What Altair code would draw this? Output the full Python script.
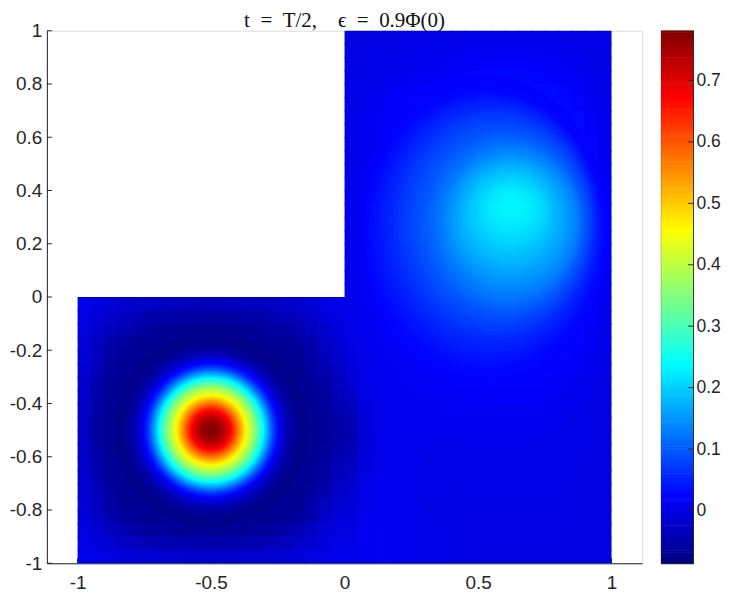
import altair as alt
import math
import pandas as pd

VMIN, VMAX = -0.086, 0.781
STOPS = [0, 0.125, 0.375, 0.625, 0.875, 1]
JET = ["#000080", "#0000ff", "#00ffff", "#ffff00", "#ff0000", "#800000"]
INK = "#262626"
FONT = "Liberation Sans"

STEP = 0.05
# Right half, x cell starts 0, 0.05 ... 0.95; rows from y=1 downwards
RIGHT = [
[-.004,-.003,-.002,-.001,0,.001,.002,.003,.004,.005,.006,.006,.006,.006,.005,.004,.003,.002,.001,-.001],
[-.003,-.002,-.001,.001,.002,.004,.005,.007,.009,.011,.012,.013,.013,.013,.012,.01,.008,.005,.002,-.001],
[-.002,0,.002,.004,.006,.008,.01,.012,.015,.017,.019,.02,.02,.02,.018,.015,.012,.008,.004,0],
[-.001,.002,.004,.007,.01,.013,.016,.019,.022,.025,.027,.028,.028,.028,.026,.022,.018,.012,.006,.001],
[0,.003,.007,.011,.015,.019,.023,.027,.029,.029,.029,.029,.029,.029,.029,.029,.025,.017,.009,.002],
[0,.005,.01,.015,.02,.025,.029,.029,.029,.029,.029,.029,.029,.029,.029,.029,.029,.023,.012,.003],
[.001,.006,.012,.018,.024,.029,.029,.029,.029,.029,.029,.029,.029,.029,.029,.029,.029,.029,.015,.004],
[.002,.007,.014,.021,.028,.029,.029,.029,.029,.029,.029,.029,.029,.029,.029,.029,.029,.029,.019,.005],
[.002,.008,.016,.024,.029,.029,.029,.029,.029,.029,.029,.029,.029,.029,.029,.029,.029,.029,.025,.006],
[.003,.01,.018,.027,.029,.029,.029,.029,.029,.029,.029,.029,.029,.029,.029,.029,.029,.029,.029,.008],
[.004,.011,.02,.029,.029,.029,.029,.029,.029,.029,.029,.029,.029,.029,.029,.029,.029,.029,.029,.01],
[.005,.013,.023,.029,.029,.029,.029,.029,.029,.029,.029,.029,.029,.029,.029,.029,.029,.029,.029,.012],
[.006,.014,.026,.029,.029,.029,.029,.029,.029,.029,.029,.029,.029,.029,.029,.029,.029,.029,.029,.015],
[.007,.015,.028,.029,.029,.029,.029,.029,.029,.029,.029,.029,.029,.029,.029,.029,.029,.029,.029,.016],
[.007,.016,.029,.029,.029,.029,.029,.029,.029,.029,.029,.029,.029,.029,.029,.029,.029,.029,.029,.016],
[.007,.016,.029,.029,.029,.029,.029,.029,.029,.029,.029,.029,.029,.029,.029,.029,.029,.029,.029,.015],
[.007,.016,.028,.029,.029,.029,.029,.029,.029,.029,.029,.029,.029,.029,.029,.029,.029,.029,.029,.013],
[.007,.015,.026,.029,.029,.029,.029,.029,.029,.029,.029,.029,.029,.029,.029,.029,.029,.029,.029,.011],
[.006,.014,.024,.029,.029,.029,.029,.029,.029,.029,.029,.029,.029,.029,.029,.029,.029,.029,.029,.01],
[.005,.013,.022,.029,.029,.029,.029,.029,.029,.029,.029,.029,.029,.029,.029,.029,.029,.029,.029,.008],
[.004,.012,.019,.027,.029,.029,.029,.029,.029,.029,.029,.029,.029,.029,.029,.029,.029,.029,.028,.006],
[.002,.01,.016,.022,.029,.029,.029,.029,.029,.029,.029,.029,.029,.029,.029,.029,.029,.029,.022,.005],
[0,.008,.013,.018,.024,.029,.029,.029,.029,.029,.029,.029,.029,.029,.029,.029,.029,.029,.017,.003],
[-.003,.006,.011,.015,.019,.024,.029,.029,.029,.029,.029,.029,.029,.029,.029,.029,.029,.023,.012,.002],
[-.006,.004,.009,.012,.015,.019,.023,.027,.029,.029,.029,.029,.029,.029,.029,.029,.024,.016,.008,0],
[-.01,.002,.007,.01,.013,.015,.018,.021,.024,.027,.029,.029,.029,.029,.027,.023,.018,.012,.006,-.001],
[-.016,0,.006,.009,.011,.013,.015,.017,.019,.02,.021,.022,.022,.021,.02,.017,.013,.008,.004,-.002],
[-.025,-.004,.004,.008,.01,.011,.012,.013,.014,.015,.016,.016,.016,.016,.015,.013,.01,.006,.002,-.003],
[-.035,-.008,.003,.007,.009,.01,.01,.011,.011,.012,.012,.012,.012,.012,.011,.01,.007,.004,.001,-.004],
[-.042,-.012,.002,.006,.008,.008,.008,.008,.009,.009,.009,.009,.009,.009,.008,.007,.005,.002,0,-.004],
[-.044,-.014,.001,.006,.007,.007,.006,.006,.006,.007,.007,.007,.007,.007,.006,.005,.003,.001,-.001,-.004],
[-.04,-.012,.002,.006,.007,.006,.004,.004,.004,.005,.005,.005,.005,.005,.004,.003,.002,0,-.002,-.004],
[-.032,-.008,.003,.007,.007,.005,.003,.002,.003,.003,.003,.003,.003,.003,.003,.002,.001,-.001,-.002,-.004],
[-.024,-.004,.005,.008,.007,.004,.002,.001,.001,.002,.002,.002,.002,.002,.002,.001,0,-.001,-.003,-.004],
[-.016,0,.007,.009,.007,.004,.001,0,0,.001,.001,.001,.001,.001,.001,.001,0,-.002,-.003,-.004],
[-.01,.003,.009,.01,.007,.003,0,-.001,0,0,0,0,0,0,0,0,-.001,-.002,-.003,-.004],
[-.005,.006,.01,.01,.007,.003,0,-.001,-.001,-.001,-.001,-.001,-.001,-.001,-.001,-.001,-.002,-.003,-.003,-.004],
[-.002,.008,.011,.01,.007,.003,.001,-.001,-.001,-.002,-.002,-.002,-.002,-.002,-.002,-.002,-.002,-.003,-.004,-.004],
[0,.009,.011,.01,.007,.004,.001,0,-.001,-.002,-.003,-.003,-.003,-.003,-.003,-.003,-.003,-.003,-.004,-.004],
[.002,.009,.011,.009,.007,.004,.002,0,-.001,-.002,-.003,-.004,-.004,-.004,-.004,-.004,-.004,-.004,-.004,-.004],
]
# Left half, x cell starts -1 ... -0.05; rows from y=0 downwards
LEFT = [
[.005,-.003,-.01,-.016,-.022,-.027,-.03,-.032,-.034,-.035,-.035,-.034,-.032,-.03,-.027,-.022,-.016,-.01,-.002,.004],
[0,-.012,-.024,-.033,-.04,-.046,-.05,-.053,-.055,-.056,-.056,-.055,-.053,-.05,-.046,-.04,-.033,-.024,-.012,-.002],
[-.003,-.02,-.034,-.045,-.054,-.06,-.065,-.069,-.071,-.072,-.072,-.071,-.069,-.065,-.06,-.054,-.045,-.034,-.02,-.007],
[-.012,-.03,-.05,-.062,-.068,-.07,-.07,-.07,-.07,-.07,-.07,-.07,-.07,-.07,-.07,-.068,-.062,-.05,-.03,-.014],
[-.012,-.032,-.055,-.068,-.07,-.07,-.07,-.07,-.07,-.07,-.07,-.07,-.07,-.07,-.07,-.07,-.068,-.055,-.036,-.02],
[-.015,-.04,-.06,-.07,-.07,-.07,-.07,-.07,-.07,-.07,-.07,-.07,-.07,-.07,-.07,-.07,-.07,-.06,-.046,-.028],
[-.02,-.045,-.065,-.07,-.07,-.07,-.07,-.07,-.07,-.07,-.07,-.07,-.07,-.07,-.07,-.07,-.07,-.065,-.054,-.034],
[-.022,-.05,-.068,-.07,-.07,-.07,-.07,-.07,-.07,-.07,-.07,-.07,-.07,-.07,-.07,-.07,-.07,-.068,-.06,-.04],
[-.024,-.055,-.07,-.07,-.07,-.07,-.07,-.07,-.07,-.07,-.07,-.07,-.07,-.07,-.07,-.07,-.07,-.07,-.063,-.048],
[-.025,-.058,-.07,-.07,-.07,-.07,-.07,-.07,-.07,-.07,-.07,-.07,-.07,-.07,-.07,-.07,-.07,-.07,-.066,-.052],
[-.025,-.058,-.07,-.07,-.07,-.07,-.07,-.07,-.07,-.07,-.07,-.07,-.07,-.07,-.07,-.07,-.07,-.07,-.066,-.053],
[-.024,-.055,-.07,-.07,-.07,-.07,-.07,-.07,-.07,-.07,-.07,-.07,-.07,-.07,-.07,-.07,-.07,-.07,-.063,-.05],
[-.022,-.05,-.068,-.07,-.07,-.07,-.07,-.07,-.07,-.07,-.07,-.07,-.07,-.07,-.07,-.07,-.07,-.068,-.06,-.042],
[-.02,-.045,-.065,-.07,-.07,-.07,-.07,-.07,-.07,-.07,-.07,-.07,-.07,-.07,-.07,-.07,-.07,-.065,-.054,-.034],
[-.015,-.04,-.06,-.07,-.07,-.07,-.07,-.07,-.07,-.07,-.07,-.07,-.07,-.07,-.07,-.07,-.07,-.06,-.046,-.026],
[-.012,-.032,-.055,-.068,-.07,-.07,-.07,-.07,-.07,-.07,-.07,-.07,-.07,-.07,-.07,-.07,-.068,-.055,-.034,-.018],
[-.008,-.028,-.048,-.06,-.066,-.07,-.07,-.07,-.07,-.07,-.07,-.07,-.07,-.07,-.07,-.066,-.06,-.048,-.026,-.01],
[-.004,-.018,-.032,-.044,-.054,-.06,-.063,-.066,-.067,-.067,-.067,-.066,-.065,-.062,-.058,-.052,-.042,-.03,-.016,-.004],
[0,-.008,-.018,-.027,-.034,-.04,-.043,-.045,-.046,-.047,-.047,-.046,-.045,-.043,-.04,-.034,-.026,-.016,-.006,.002],
[.006,.002,-.004,-.009,-.013,-.016,-.018,-.019,-.02,-.02,-.02,-.02,-.019,-.018,-.016,-.013,-.009,-.004,.002,.006],
]
# Circular peak around (-0.5, -0.5): radius and value read along its rings
PEAK_X = -0.5
PEAK_Y = -0.5
RING_R = [.42,.4125,.405,.3975,.39,.3825,.375,.3675,.36,.3525,.345,.3375,.33,.3225,.315,.3075,
          .30,.2925,.285,.2775,.27,.2625,.255,.2475,.24,.2325,.225,.2175,.21,.2025,.195,.1875,.18,.1725,.165,.1575,
          .15,.1425,.135,.1275,.12,.1125,.105,.0975,.09,.0825,.075,.0675,.06,.0525,.045,.0375,.03,.0225,.015,.0075]
RING_V = [-.07,-.074,-.077,-.079,-.078,-.076,-.073,-.07,-.066,-.062,-.057,-.051,-.044,-.035,-.024,-.012,
          0,.015,.03,.05,.07,.095,.12,.15,.175,.205,.235,.26,.285,.31,.335,.36,.38,.40,.42,.44,
          .465,.49,.515,.54,.565,.59,.615,.64,.665,.685,.70,.715,.73,.742,.753,.762,.769,.774,.777,.78]
# Contours of the upper right lobe: value, centre, half width, half height
LOBE_V = [.02,.025,.03,.035,.04,.045,.05,.055,.06,.065,.07,.075,.08,.085,.09,.095,.10,.105,.11,.115,.12,.125,.13,
          .135,.14,.145,.15,.155,.16,.165,.17,.175,.18,.185,.19,.195,.20,.205,.21,.215,.22,.225,.23,.234]
LOBE_X = [.53,.53,.53,.535,.54,.545,.55,.555,.56,.565,.57,.575,.58,.585,.59,.594,.598,.602,.606,.61,.613,.616,.62,
          .62,.62,.62,.62,.62,.62,.62,.62,.62,.62,.62,.62,.62,.625,.625,.625,.625,.625,.625,.625,.625]
LOBE_Y = [.24,.245,.25,.255,.26,.265,.27,.272,.275,.277,.28,.28,.28,.28,.28,.28,.28,.28,.28,.28,.28,.282,.285,
          .287,.288,.29,.292,.295,.298,.30,.303,.306,.309,.312,.315,.318,.32,.323,.326,.329,.332,.335,.338,.34]
LOBE_A = [.465,.455,.44,.428,.417,.406,.395,.386,.377,.368,.36,.35,.34,.33,.32,.31,.30,.292,.285,.277,.27,.262,.255,
          .248,.24,.232,.225,.217,.208,.199,.19,.181,.172,.163,.154,.145,.135,.124,.113,.102,.09,.072,.05,.02]
LOBE_B = [.59,.55,.52,.505,.49,.475,.46,.445,.43,.42,.41,.395,.38,.37,.355,.345,.335,.325,.315,.305,.295,.285,.275,
          .265,.255,.245,.235,.225,.215,.205,.195,.185,.175,.163,.152,.14,.128,.116,.103,.09,.077,.06,.042,.017]
XTICKS = [-1, -0.5, 0, 0.5, 1]
YTICKS = [-1, -0.8, -0.6, -0.4, -0.2, 0, 0.2, 0.4, 0.6, 0.8, 1]
CTICKS = [0, 0.1, 0.2, 0.3, 0.4, 0.5, 0.6, 0.7]
TITLE = "t\u2002=\u2002T/2,\u2002\u2002ϵ\u2002=\u20020.9Φ(0)"

cells = []
for r, row in enumerate(RIGHT):
    for c, v in enumerate(row):
        cells.append(dict(x=c * STEP, x2=min(1, (c + 1.08) * STEP), y=1 - r * STEP, y2=max(-1, 1 - (r + 1.08) * STEP), v=v))
for r, row in enumerate(LEFT):
    for c, v in enumerate(row):
        cells.append(dict(x=-1 + c * STEP, x2=-1 + (c + 1.08) * STEP, y=-r * STEP, y2=max(-1, -(r + 1.08) * STEP), v=v))
cells = pd.DataFrame(cells)
PX_PER_UNIT = 267.5
rings = pd.DataFrame(dict(s=[math.pi * (r * PX_PER_UNIT) ** 2 for r in RING_R], v=RING_V, x=PEAK_X, y=PEAK_Y))
lobe = pd.DataFrame(dict(
    v=LOBE_V, x=LOBE_X, y=LOBE_Y,
    s=[(2 * a * PX_PER_UNIT) ** 2 for a in LOBE_A],
    p=[f"M-1,0A1,{b / a:.4f} 0 1,1 1,0A1,{b / a:.4f} 0 1,1 -1,0Z" for a, b in zip(LOBE_A, LOBE_B)],
))

color_scale = alt.Scale(domain=[VMIN + s * (VMAX - VMIN) for s in STOPS], range=JET, interpolate="rgb", clamp=True)
W, H = 597, 534
xs = alt.Scale(domain=[-1.115, 1.115], nice=False, zero=False)
ys = alt.Scale(domain=[-1, 1], nice=False, zero=False)
axis_common = dict(grid=False, ticks=False, domainColor=INK, domainWidth=1, labelColor=INK, labelFontSize=19,
                   labelFont=FONT, title=None, labelExpr="toString(datum.value)")

xticks = alt.Chart(pd.DataFrame(dict(t=XTICKS))).mark_rule(color=INK, strokeWidth=1).encode(
    x=alt.X("t:Q", scale=xs, axis=alt.Axis(values=XTICKS, labelPadding=10, **axis_common)),
    y=alt.value(H), y2=alt.value(H - 5))
yticks = alt.Chart(pd.DataFrame(dict(t=YTICKS))).mark_rule(color=INK, strokeWidth=1).encode(
    y=alt.Y("t:Q", scale=ys, axis=alt.Axis(values=YTICKS, labelPadding=5, minExtent=38, maxExtent=38, **axis_common)),
    x=alt.value(0), x2=alt.value(5))
heat = alt.Chart(cells).mark_rect(strokeWidth=0).encode(
    x=alt.X("x:Q", scale=xs), x2="x2:Q", y=alt.Y("y:Q", scale=ys), y2="y2:Q",
    color=alt.Color("v:Q", scale=color_scale, legend=None))
lobes = alt.Chart(lobe).mark_point(filled=True, opacity=1, strokeWidth=0).encode(
    x=alt.X("x:Q", scale=xs), y=alt.Y("y:Q", scale=ys),
    size=alt.Size("s:Q", scale=None),
    shape=alt.Shape("p:N", scale=None),
    color=alt.Color("v:Q", scale=color_scale, legend=None),
    order=alt.Order("v:Q"))
peak = alt.Chart(rings).mark_circle(opacity=1, strokeWidth=0).encode(
    x=alt.X("x:Q", scale=xs), y=alt.Y("y:Q", scale=ys),
    size=alt.Size("s:Q", scale=None),
    color=alt.Color("v:Q", scale=color_scale, legend=None))
main = alt.layer(xticks, yticks, heat, lobes, peak).properties(
    width=W, height=H,
    title=alt.TitleParams(TITLE, font="Liberation Serif", fontSize=21, fontWeight="normal", color="#111111",
                          anchor="middle", offset=-9))

n = 256
bar = pd.DataFrame([dict(a=VMIN + i * (VMAX - VMIN) / n, b=VMIN + (i + 1.3) * (VMAX - VMIN) / n,
                         v=VMIN + (i + 0.5) * (VMAX - VMIN) / n) for i in range(n)])
bar["b"] = bar["b"].clip(upper=VMAX)
cs = alt.Scale(domain=[VMIN, VMAX], nice=False, zero=False)
bar_rect = alt.Chart(bar).mark_rect(strokeWidth=0).encode(
    x=alt.value(0), x2=alt.value(32),
    y=alt.Y("a:Q", scale=cs, axis=alt.Axis(orient="right", values=CTICKS, domain=False, labelPadding=3,
                                          grid=False, ticks=False, labelColor=INK, labelFontSize=17.5, labelFont=FONT,
                                          title=None, labelExpr="toString(datum.value)")),
    y2="b:Q",
    color=alt.Color("v:Q", scale=color_scale, legend=None))
bar_ticks = alt.Chart(pd.DataFrame(dict(t=CTICKS))).mark_rule(color=INK, strokeWidth=1).encode(
    y=alt.Y("t:Q", scale=cs), x=alt.value(27), x2=alt.value(32))
colorbar = alt.layer(bar_rect, bar_ticks).properties(
    width=32, height=H, view=alt.ViewConfig(stroke=INK, strokeWidth=1.2))

chart = alt.hconcat(main, colorbar, spacing=17, padding=0)
chart.save("out.html", embed_options={"renderer": "svg", "actions": False})
